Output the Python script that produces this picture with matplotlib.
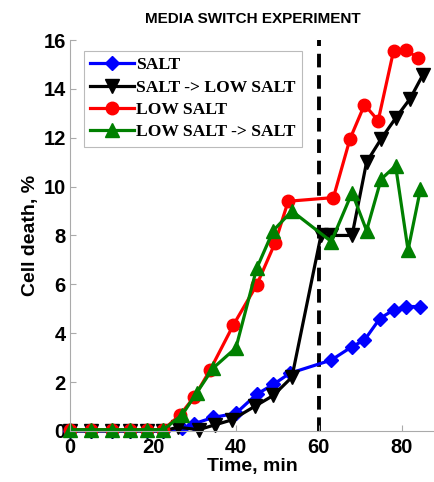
import numpy as np
import matplotlib
matplotlib.use("Agg")
import matplotlib.pyplot as plt


# Data
t_salt = [0, 5, 10, 14.5, 18.5, 22.5, 27, 30, 34.5, 40, 45, 49, 53, 63, 68, 71, 74.7, 78, 81, 84.3]
salt = [0, 0, 0, 0, 0, 0, 0.1, 0.3, 0.55, 0.72, 1.5, 1.9, 2.36, 2.9, 3.45, 3.72, 4.6, 4.95, 5.09, 5.09]

t_salt_low = [0, 5, 10, 14.5, 18.5, 22.5, 26, 31, 35, 39, 44.5, 49, 53.5, 60.5, 63, 68, 71.5, 75, 78.5, 82, 85]
salt_low = [0, 0, 0, 0, 0, 0, 0.15, 0.05, 0.25, 0.45, 1.0, 1.45, 2.2, 8.0, 8.0, 8.0, 11.0, 11.95, 12.8, 13.6, 14.55]

t_low = [0, 5, 10, 14.5, 18.5, 22.5, 26.5, 30, 33.8, 39.4, 45, 49.4, 52.6, 63.5, 67.5, 71, 74.3, 78, 81, 84]
low = [0.05, 0.05, 0.05, 0.05, 0.05, 0.05, 0.65, 1.4, 2.5, 4.34, 5.97, 7.68, 9.4, 9.55, 11.95, 13.35, 12.7, 15.55, 15.6, 15.25]

t_low_salt = [0, 5, 10, 14.5, 18.5, 22.5, 27, 30.5, 34.5, 40, 45, 49, 53.5, 63, 68, 71.5, 75, 78.5, 81.5, 84.5]
low_salt = [0.05, 0.05, 0.05, 0.05, 0.05, 0.05, 0.65, 1.55, 2.57, 3.4, 6.65, 8.2, 9.0, 7.75, 9.75, 8.2, 10.3, 10.85, 7.4, 9.9]

switch_time = 60


fig = plt.figure(figsize=(4.35, 4.82), dpi=100)
ax = fig.add_axes([0.161, 0.106, 0.839, 0.811])

lw = 2.3
ax.plot(t_salt, salt, color='blue', marker='D', ms=7.5, lw=lw, label='SALT')
ax.plot(t_salt_low, salt_low, color='black', marker='v', ms=9.5, lw=lw, label='SALT -> LOW SALT')
ax.plot(t_low, low, color='red', marker='o', ms=9, lw=lw, label='LOW SALT')
ax.plot(t_low_salt, low_salt, color='green', marker='^', ms=10, lw=lw, label='LOW SALT -> SALT')

# Time of media switch
ax.plot([switch_time, switch_time], [0, 16], color='black', lw=2.8, ls=(0, (3.5, 2)), zorder=1)

ax.set_xlim(0, 88)
ax.set_ylim(0, 16)
ax.set_xticks([0, 20, 40, 60, 80])
ax.set_yticks([0, 2, 4, 6, 8, 10, 12, 14, 16])

for side in ['top', 'right']:
    ax.spines[side].set_visible(False)
for side in ['left', 'bottom']:
    ax.spines[side].set_color('#aaaaaa')
    ax.spines[side].set_linewidth(0.8)
for line in ax.get_lines():
    line.set_clip_on(False)

ax.tick_params(direction='in', length=4, color='#aaaaaa')
ax.tick_params(axis='x', pad=5)
ax.tick_params(axis='y', pad=3)
for lab in ax.get_xticklabels() + ax.get_yticklabels():
    lab.set_fontsize(14.5)
    lab.set_fontweight('bold')
    lab.set_family('Liberation Sans')

ax.set_xlabel('Time, min', fontsize=14, fontweight='bold', family='Liberation Sans', labelpad=1)
ax.set_ylabel('Cell death, %', fontsize=14, fontweight='bold', family='Liberation Sans', labelpad=3)
ax.set_title('MEDIA SWITCH EXPERIMENT', fontsize=11, fontweight='bold', family='Liberation Sans', pad=12)

leg = ax.legend(loc='upper left', bbox_to_anchor=(0.038, 0.972), frameon=True, fancybox=False,
                prop={'family': 'Liberation Serif', 'weight': 'bold', 'size': 12.6},
                handlelength=2.5, handletextpad=0.15, labelspacing=0.35, borderpad=0.35,
                borderaxespad=0)
leg.get_frame().set_edgecolor('#aaaaaa')
leg.get_frame().set_linewidth(0.8)

fig.savefig('out.png', dpi=100)
